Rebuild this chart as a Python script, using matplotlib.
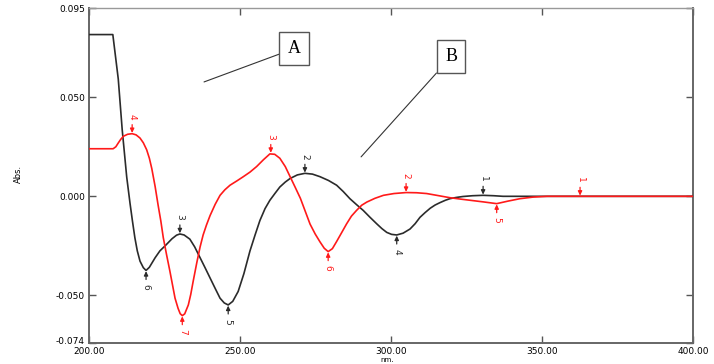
import matplotlib
matplotlib.use("Agg")
import matplotlib.pyplot as plt
import matplotlib.transforms as mtransforms
import numpy as np

# spectrum A (black), nm / Abs
black_nm = [200.0, 207.9, 209.7, 211.0, 212.5, 213.6, 214.4, 215.2, 216.0, 216.9,
            218.0, 218.9, 220.0, 221.9, 223.5, 225.2, 227.5, 229.0, 230.1, 231.5,
            233.4, 235.0, 236.8, 238.5, 240.1, 241.8, 243.4, 244.8, 246.1, 247.6,
            249.4, 251.3, 253.3, 255.0, 256.6, 258.3, 259.9, 261.6, 263.2, 265.0,
            266.6, 269.0, 271.5, 274.0, 276.5, 279.3, 282.0, 284.2, 286.4, 288.6,
            290.8, 293.0, 295.3, 297.0, 298.6, 300.2, 301.9, 304.0, 306.3, 308.0,
            309.6, 311.3, 313.0, 314.6, 316.2, 318.0, 319.5, 321.5, 323.8, 327.0,
            330.5, 334.0, 337.1, 400.0]
black_abs = [0.0816, 0.0816, 0.0592, 0.0337, 0.0097, -0.0036, -0.0125, -0.0209, -0.0275, -0.0327,
             -0.0360, -0.0374, -0.0358, -0.0310, -0.0275, -0.0250, -0.0214, -0.0196, -0.0190, -0.0195,
             -0.0216, -0.0255, -0.0310, -0.0362, -0.0412, -0.0465, -0.0514, -0.0538, -0.0548, -0.0530,
             -0.0480, -0.0390, -0.0276, -0.0195, -0.0122, -0.0062, -0.0020, 0.0015, 0.0047, 0.0072,
             0.0090, 0.0108, 0.0116, 0.0112, 0.0099, 0.0080, 0.0056, 0.0024, -0.0012, -0.0042,
             -0.0071, -0.0105, -0.0139, -0.0163, -0.0182, -0.0192, -0.0195, -0.0186, -0.0165, -0.0138,
             -0.0106, -0.0082, -0.0060, -0.0044, -0.0032, -0.0020, -0.0012, -0.0006, -0.0001, 0.0003,
             0.0005, 0.0003, 0.0, 0.0]

# spectrum B (red)
red_nm = [200.0, 208.0, 208.9, 209.7, 210.5, 211.4, 212.8, 214.3, 215.6, 216.9,
          218.0, 219.1, 220.0, 220.8, 221.9, 222.9, 223.8, 224.6, 225.7, 226.8,
          227.7, 228.5, 229.5, 230.2, 230.9, 231.7, 232.9, 233.7, 234.5, 235.7,
          236.8, 237.8, 238.9, 240.1, 241.8, 243.4, 245.0, 246.7, 249.0, 251.1,
          253.3, 255.5, 257.8, 259.9, 261.5, 263.2, 265.0, 266.6, 268.3, 270.0,
          271.6, 273.2, 274.9, 276.5, 277.9, 279.2, 280.6, 282.0, 283.6, 285.3,
          286.9, 288.6, 290.3, 292.0, 294.7, 297.5, 301.0, 305.0, 308.5, 311.8,
          315.5, 319.5, 323.0, 326.2, 330.5, 335.0, 338.8, 342.7, 347.0, 351.7,
          400.0]
red_abs = [0.0240, 0.0240, 0.0250, 0.0269, 0.0287, 0.0303, 0.0313, 0.0316, 0.0310, 0.0294,
           0.0270, 0.0235, 0.0192, 0.0140, 0.0050, -0.0045, -0.0125, -0.0208, -0.0295, -0.0378,
           -0.0450, -0.0514, -0.0565, -0.0592, -0.0602, -0.0593, -0.0548, -0.0495, -0.0429, -0.0335,
           -0.0255, -0.0195, -0.0145, -0.0097, -0.0040, 0.0005, 0.0033, 0.0056, 0.0078, 0.0099,
           0.0122, 0.0150, 0.0185, 0.0214, 0.0212, 0.0192, 0.0150, 0.0099, 0.0045, -0.0010,
           -0.0075, -0.0140, -0.0190, -0.0230, -0.0262, -0.0279, -0.0264, -0.0228, -0.0185, -0.0139,
           -0.0100, -0.0071, -0.0045, -0.0029, -0.0010, 0.0005, 0.0014, 0.0019, 0.0018, 0.0014,
           0.0004, -0.0007, -0.0014, -0.0020, -0.0028, -0.0037, -0.0024, -0.0012, -0.0004, 0.0,
           0.0]

# peak picks: position, value, number, max/min
black_pk_nm = [330.5, 271.5, 230.1, 301.9, 246.1, 218.9]
black_pk_abs = [0.0005, 0.0116, -0.0190, -0.0195, -0.0548, -0.0374]
black_pk_lab = ["1", "2", "3", "4", "5", "6"]
black_pk_top = [True, True, True, False, False, False]

red_pk_nm = [362.6, 305.0, 260.2, 214.3, 335.0, 279.2, 230.9]
red_pk_abs = [0.0, 0.0019, 0.0216, 0.0316, -0.0037, -0.0279, -0.0602]
red_pk_lab = ["1", "2", "3", "4", "5", "6", "7"]
red_pk_top = [True, True, True, True, False, False, False]

x_ticks = [200, 250, 300, 350, 400]
x_labels = ["200.00", "250.00", "300.00", "350.00", "400.00"]
y_ticks = [0.095, 0.050, 0.000, -0.050, -0.074]
y_labels = ["0.095", "0.050", "0.000", "-0.050", "-0.074"]

BLACK = "#2b2b2b"
RED = "#ff1a1a"

fig = plt.figure(figsize=(7.14, 3.64), dpi=100)
ax = fig.add_axes([0.1246, 0.0577, 0.846, 0.9203])

ax.plot(black_nm, black_abs, color=BLACK, lw=1.2, zorder=3)
ax.plot(red_nm, red_abs, color=RED, lw=1.2, zorder=3)


def mark_peaks(nm, vals, labs, tops, col):
    for x, y, t, top in zip(nm, vals, labs, tops):
        s = 1 if top else -1
        ax.annotate("", xy=(x, y), xytext=(0, s * 6.5), textcoords="offset points",
                    arrowprops=dict(arrowstyle="-|>,head_length=0.25,head_width=0.12",
                                    color=col, lw=0.9, shrinkA=0, shrinkB=0.5))
        ax.annotate(t, xy=(x, y), xytext=(0, s * 12), textcoords="offset points",
                    ha="center", va="center", rotation=-90, fontsize=6.5, color=col)


mark_peaks(black_pk_nm, black_pk_abs, black_pk_lab, black_pk_top, BLACK)
mark_peaks(red_pk_nm, red_pk_abs, red_pk_lab, red_pk_top, RED)

ax.set_xlim(200, 400)
ax.set_ylim(-0.074, 0.095)
ax.set_xticks(x_ticks)
ax.set_xticklabels(x_labels)
ax.set_yticks(y_ticks)
ax.set_yticklabels(y_labels)
ax.tick_params(direction="in", length=5, width=1, color="#555555", labelsize=6.5,
               top=True, right=True)
ax.tick_params(axis="x", pad=3)
ax.tick_params(axis="y", pad=3)
# lift the bottom y label a little so it clears "200.00"
lift = mtransforms.ScaledTranslation(0, 2 / 72, fig.dpi_scale_trans)
lab = ax.get_yticklabels()[-1]
lab.set_transform(lab.get_transform() + lift)
for sp in ax.spines.values():
    sp.set_color("#666666")
    sp.set_linewidth(1.4)
ax.spines["top"].set_color("#999999")
ax.spines["top"].set_linewidth(1.0)

fig.text(18 / 714, 1 - 174 / 364, "Abs.", rotation=90, fontsize=6,
         ha="center", va="center")
fig.text(387 / 714, 1 - 359.5 / 364, "nm.", fontsize=5, ha="center", va="center")

# A / B boxes with leader lines
box = dict(boxstyle="square,pad=0.45", fc="white", ec="#555555", lw=1.0)
ax.annotate("A", xy=(238.1, 0.0577), xytext=(267.9, 0.0745), fontsize=13,
            family="Liberation Serif", ha="center", va="center", bbox=box,
            arrowprops=dict(arrowstyle="-", color="#333333", lw=0.8, shrinkA=0, shrinkB=0))
ax.annotate("B", xy=(290.1, 0.0199), xytext=(319.9, 0.0704), fontsize=13,
            family="Liberation Serif", ha="center", va="center", bbox=box,
            arrowprops=dict(arrowstyle="-", color="#333333", lw=0.8, shrinkA=0, shrinkB=0))

fig.savefig("out.png", dpi=100)
